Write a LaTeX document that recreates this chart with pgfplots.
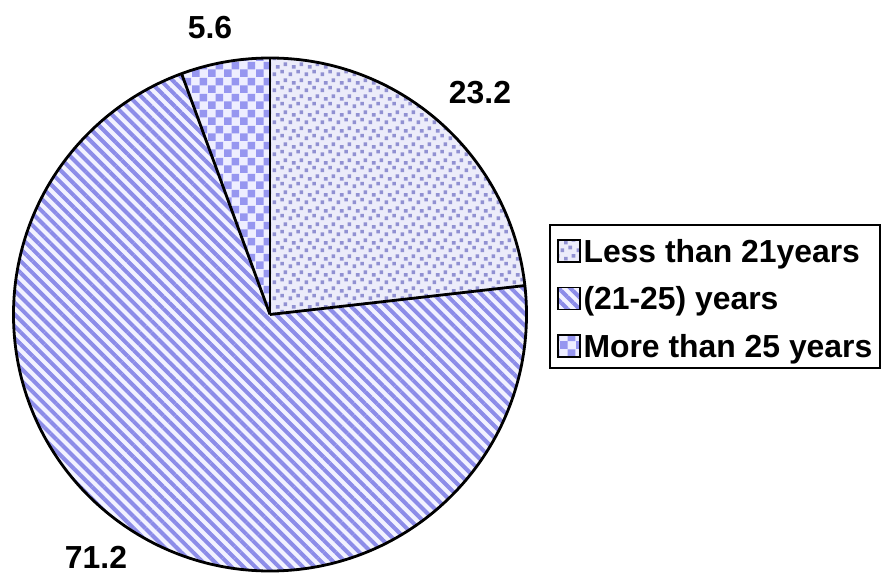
\documentclass[border=0pt]{standalone}
\usepackage{pgfplots}
\pgfplotsset{compat=1.18}
\usepackage{pgfplotstable}
\usetikzlibrary{patterns,patterns.meta}
\usepackage{fontspec}
\setmainfont{Liberation Sans}

\definecolor{dotbg}{RGB}{236,236,250}
\definecolor{dotfg}{RGB}{145,145,210}
\definecolor{stripebg}{RGB}{242,242,255}
\definecolor{stripefg}{RGB}{140,140,232}
\definecolor{checkbg}{RGB}{238,238,255}
\definecolor{checkfg}{RGB}{150,150,240}

\tikzdeclarepattern{
  name=piedots,
  type=uncolored,
  bounding box={(0,0) and (8bp,8bp)},
  tile size={(8bp,8bp)},
  code={
    \fill (0.3bp,0.5bp) rectangle (2.2bp,2.4bp);
    \fill (4.4bp,1.9bp) rectangle (6.3bp,3.8bp);
    \fill (2.1bp,4.4bp) rectangle (4.0bp,6.3bp);
    \fill (6.1bp,5.8bp) rectangle (8bp,7.7bp);
  }
}
\tikzdeclarepattern{
  name=piechecker,
  type=uncolored,
  bounding box={(0,0) and (8bp,8bp)},
  tile size={(8bp,8bp)},
  code={
    \fill (0,0) rectangle (4bp,4bp);
    \fill (4bp,4bp) rectangle (8bp,8bp);
  }
}

\pgfplotstableread{
label value
a 23.2
b 71.2
c 5.6
}\piedata
\pgfplotstablegetelem{0}{value}\of\piedata \let\va\pgfplotsretval
\pgfplotstablegetelem{1}{value}\of\piedata \let\vb\pgfplotsretval
\pgfplotstablegetelem{2}{value}\of\piedata \let\vc\pgfplotsretval
\pgfmathsetmacro\angA{90}
\pgfmathsetmacro\angB{90-3.6*\va}
\pgfmathsetmacro\angC{\angB-3.6*\vb}
\pgfmathsetmacro\angD{\angC-3.6*\vc}

\def\R{128.25bp}
\def\cx{135}
\def\cy{129.25}

\begin{document}
\begin{tikzpicture}
\begin{axis}[
  x=1bp, y=1bp,
  xmin=0, xmax=441, ymin=0, ymax=286.5,
  scale only axis, hide axis, clip=false,
  at={(0,0)}, anchor=south west,
  legend cell align=left,
  legend style={draw=none, fill=none, inner xsep=0pt, inner ysep=0pt,
    at={(axis description cs:0.631,0.590)}, anchor=north west,
    font=\bfseries\fontsize{16}{19}\selectfont,
    nodes={inner sep=1.5bp, text height=12bp, text depth=3.5bp},
    row sep=5.3bp},
]
% sectors
\fill[dotbg] (axis cs:\cx,\cy) -- ++(\angA:\R) arc[start angle=\angA, end angle=\angB, radius=\R] -- cycle;
\fill[pattern=piedots, pattern color=dotfg] (axis cs:\cx,\cy) -- ++(\angA:\R) arc[start angle=\angA, end angle=\angB, radius=\R] -- cycle;
\fill[stripebg] (axis cs:\cx,\cy) -- ++(\angB:\R) arc[start angle=\angB, end angle=\angC, radius=\R] -- cycle;
\fill[pattern={Lines[angle=-45,distance=4.2bp,line width=2bp]}, pattern color=stripefg] (axis cs:\cx,\cy) -- ++(\angB:\R) arc[start angle=\angB, end angle=\angC, radius=\R] -- cycle;
\fill[checkbg] (axis cs:\cx,\cy) -- ++(\angC:\R) arc[start angle=\angC, end angle=\angD, radius=\R] -- cycle;
\fill[pattern=piechecker, pattern color=checkfg] (axis cs:\cx,\cy) -- ++(\angC:\R) arc[start angle=\angC, end angle=\angD, radius=\R] -- cycle;
% outlines
\draw[line width=1.4bp] (axis cs:\cx,\cy) circle[radius=\R];
\draw[line width=1.4bp] (axis cs:\cx,\cy) -- ++(\angA:\R);
\draw[line width=1.4bp] (axis cs:\cx,\cy) -- ++(\angB:\R);
\draw[line width=1.4bp] (axis cs:\cx,\cy) -- ++(\angC:\R);
% value labels
\node[font=\bfseries\fontsize{16}{19}\selectfont] at (axis cs:105,272.5) {5.6};
\node[font=\bfseries\fontsize{16}{19}\selectfont] at (axis cs:240,240) {23.2};
\node[font=\bfseries\fontsize{16}{19}\selectfont] at (axis cs:48,8) {71.2};
% legend frame
\draw[line width=1bp] (axis cs:274.75,174) rectangle (axis cs:440,102.5);
% legend
\addlegendimage{legend image code/.code={
  \fill[dotbg] (0bp,-4bp) rectangle (11bp,7bp);
  \fill[pattern=piedots, pattern color=dotfg] (0bp,-4bp) rectangle (11bp,7bp);
  \draw[line width=0.8bp] (0bp,-4bp) rectangle (11bp,7bp);}}
\addlegendentry{Less than 21years}
\addlegendimage{legend image code/.code={
  \fill[stripebg] (0bp,-4bp) rectangle (11bp,7bp);
  \fill[pattern={Lines[angle=-45,distance=4.2bp,line width=2bp]}, pattern color=stripefg] (0bp,-4bp) rectangle (11bp,7bp);
  \draw[line width=0.8bp] (0bp,-4bp) rectangle (11bp,7bp);}}
\addlegendentry{(21-25) years}
\addlegendimage{legend image code/.code={
  \fill[checkbg] (0bp,-4bp) rectangle (11bp,7bp);
  \fill[pattern=piechecker, pattern color=checkfg] (0bp,-4bp) rectangle (11bp,7bp);
  \draw[line width=0.8bp] (0bp,-4bp) rectangle (11bp,7bp);}}
\addlegendentry{More than 25 years}
\end{axis}
\pgfresetboundingbox
\path[use as bounding box] (0,0) rectangle (441bp,286.5bp);
\end{tikzpicture}
\end{document}
